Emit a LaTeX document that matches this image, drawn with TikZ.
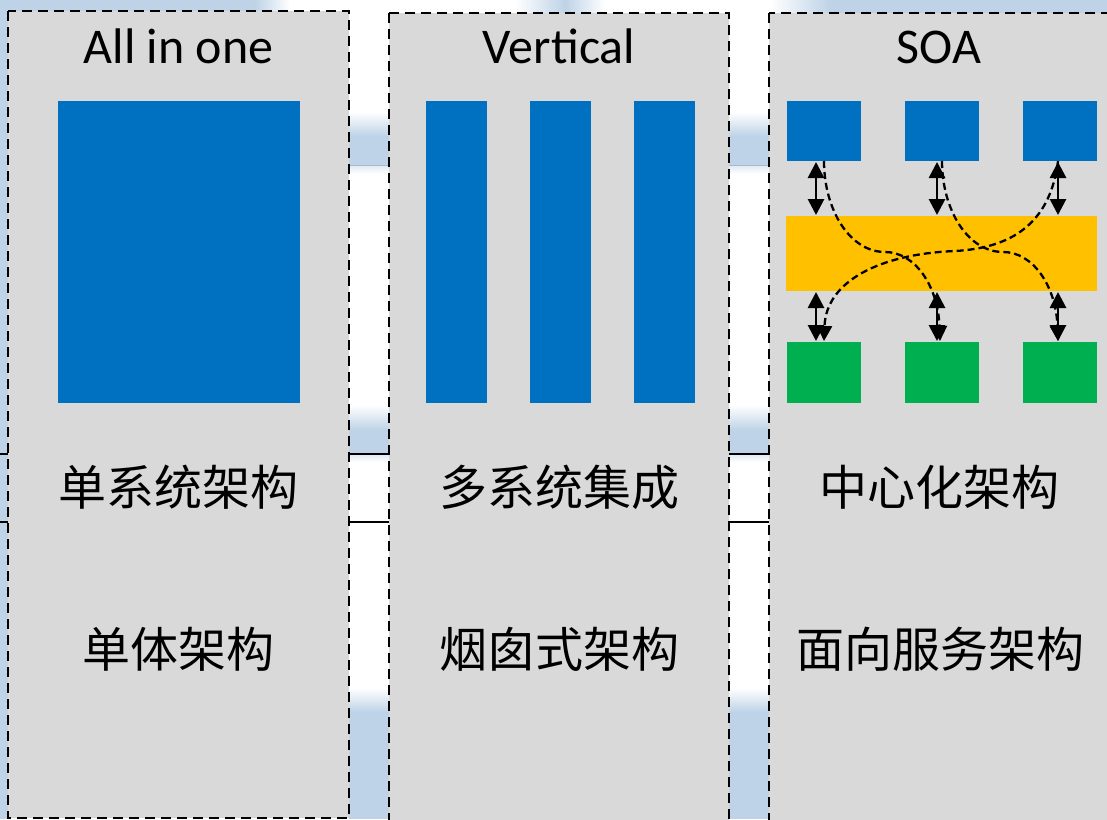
\documentclass[tikz,border=0pt]{standalone}
\usepackage{fontspec}
\setmainfont{Carlito}
\newfontfamily\cjk{Noto Sans CJK SC}
\usetikzlibrary{arrows.meta,calc}
\definecolor{bgblue}{HTML}{BED3E7}
\definecolor{panelgray}{HTML}{D9D9D9}
\definecolor{boxblue}{HTML}{0070C0}
\definecolor{boxyellow}{HTML}{FFC000}
\definecolor{boxgreen}{HTML}{00B050}
\tikzset{
  panel/.style={fill=panelgray, draw=black, line width=2.8pt, dash pattern=on 10pt off 6pt},
  box/.style={draw=none, inner sep=0pt, outer sep=0pt},
  title/.style={anchor=base, font=\fontsize{50pt}{54pt}\selectfont, text=black},
  cjklabel/.style={anchor=base, font=\cjk\fontsize{48pt}{52pt}\selectfont, text=black},
  dblarrow/.style={line width=2.8pt, {Triangle[length=16pt,width=16pt]}-{Triangle[length=16pt,width=16pt]}, shorten <=1pt, shorten >=1pt},
  flow/.style={line width=2.3pt, dash pattern=on 7pt off 4pt, -{Triangle[length=15pt,width=15pt]}},
  seamline/.style={line width=1.6pt, draw=black},
}
\begin{document}
\begin{tikzpicture}[x=1pt,y=-1pt]
\useasboundingbox (0,0) rectangle (1107,819);
\clip (0,0) rectangle (1107,819);
% background
\fill[white] (0,0) rectangle (1107,819);
\fill[bgblue] (0,0) rectangle (8,819);
\fill[bgblue] (0,0) rectangle (255,14);
\shade[left color=bgblue, right color=white] (255,0) rectangle (290,14);
\shade[left color=white, right color=bgblue] (515,0) rectangle (565,14);
\shade[left color=bgblue, right color=white] (565,0) rectangle (605,14);
\shade[left color=white, right color=bgblue] (770,0) rectangle (830,14);
\fill[bgblue] (830,0) rectangle (1107,14);
\foreach \gx in {349,729} {
  \shade[top color=white, bottom color=bgblue] (\gx,112) rectangle (\gx+40,136);
  \fill[bgblue] (\gx,136) rectangle (\gx+40,165);
  \shade[top color=bgblue!50, bottom color=white] (\gx,165) rectangle (\gx+40,174);
  \draw[line width=1pt, draw=bgblue!70!gray] (\gx,165) -- (\gx+40,165);
  \shade[top color=white, bottom color=bgblue] (\gx,405) rectangle (\gx+40,430);
  \fill[bgblue] (\gx,430) rectangle (\gx+40,454);
  \shade[top color=bgblue!50, bottom color=white] (\gx,454) rectangle (\gx+40,462);
  \draw[seamline] (\gx,454) -- (\gx+40,454);
  \draw[seamline] (\gx,522) -- (\gx+40,522);
  \shade[top color=white, bottom color=bgblue] (\gx,688) rectangle (\gx+40,712);
  \fill[bgblue] (\gx,712) rectangle (\gx+40,819);
}
\draw[seamline] (0,454) -- (8,454);
\draw[seamline] (0,522) -- (8,522);
% panels
\draw[panel] (8,11) rectangle (349,818);
\draw[panel] (389,13) rectangle (729,830);
\draw[panel] (769,13) rectangle (1115,830);
% titles
\node[title] (h1) at (178.5,63) {All in one};
\node[title] (h2) at (559,63) {Vertical};
\node[title] (h3) at (939,63) {SOA};
% panel 1
\node[box, fill=boxblue, minimum width=242pt, minimum height=302pt] (mono) at (179,252) {};
% panel 2
\node[box, fill=boxblue, minimum width=61pt, minimum height=302pt] (v1) at (456.5,252) {};
\node[box, fill=boxblue, minimum width=61pt, minimum height=302pt] (v2) at (560.5,252) {};
\node[box, fill=boxblue, minimum width=61pt, minimum height=302pt] (v3) at (664.5,252) {};
% panel 3
\node[box, fill=boxblue, minimum width=74pt, minimum height=60pt] (t1) at (824,131) {};
\node[box, fill=boxblue, minimum width=74pt, minimum height=60pt] (t2) at (942,131) {};
\node[box, fill=boxblue, minimum width=74pt, minimum height=60pt] (t3) at (1060,131) {};
\node[box, fill=boxyellow, minimum width=311pt, minimum height=75pt] (bus) at (941.5,253.5) {};
\node[box, fill=boxgreen, minimum width=74pt, minimum height=61pt] (g1) at (824,372.5) {};
\node[box, fill=boxgreen, minimum width=74pt, minimum height=61pt] (g2) at (942,372.5) {};
\node[box, fill=boxgreen, minimum width=74pt, minimum height=61pt] (g3) at (1060,372.5) {};
% double arrows
\coordinate (a1) at ($(t1.south)+(-8,0)$);
\coordinate (a2) at ($(t2.south)+(-5,0)$);
\coordinate (a3) at ($(t3.south)+(-2,0)$);
\coordinate (b1) at ($(g1.north)+(-8,0)$);
\coordinate (b2) at ($(g2.north)+(-5,0)$);
\coordinate (b3) at ($(g3.north)+(-2,0)$);
\foreach \i in {1,2,3} {
  \draw[dblarrow] (a\i) -- (a\i |- bus.north);
  \draw[dblarrow] (b\i |- bus.south) -- (b\i);
}
% dashed flows
\coordinate (mA) at (885,252);
\coordinate (mB) at (1003,252);
\coordinate (mC) at (955,251);
\draw[flow] (t1.south) .. controls +(0,49) and +(-35,0) .. (mA)
  .. controls +(30,0) and +(-2,-55) .. ($(g2.north)+(-2,-1)$);
\draw[flow] (t2.south) .. controls +(0,49) and +(-35,0) .. (mB)
  .. controls +(30,0) and +(-2,-55) .. ($(g3.north)+(-2,-1)$);
\draw[flow] ($(t3.south)+(-2,0)$) .. controls +(-8,64) and +(55,-3) .. (mC)
  .. controls +(-75,3) and +(2,-60) .. ($(g1.north)+(0,-1)$);
% labels
\node[cjklabel] (l1) at (178.5,505) {单系统架构};
\node[cjklabel] (l2) at (559,505) {多系统集成};
\node[cjklabel] (l3) at (939,505) {中心化架构};
\node[cjklabel] (s1) at (178.5,667) {单体架构};
\node[cjklabel] (s2) at (559,667) {烟囱式架构};
\node[cjklabel] (s3) at (940,667) {面向服务架构};
\end{tikzpicture}
\end{document}
